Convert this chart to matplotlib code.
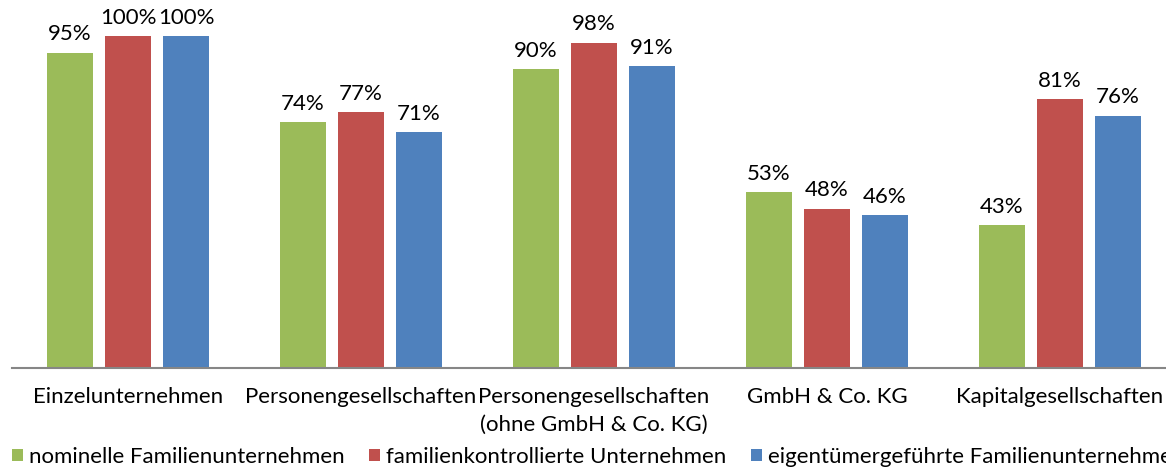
import numpy as np
import matplotlib
matplotlib.use("Agg")
import matplotlib.pyplot as plt

# ============================================================
# DATOS
# ============================================================
CATEGORIES = [
    "Einzelunternehmen",
    "Personengesellschaften",
    "Personengesellschaften\n(ohne GmbH & Co. KG)",
    "GmbH & Co. KG",
    "Kapitalgesellschaften",
]
SERIES = [
    "nominelle Familienunternehmen",
    "familienkontrollierte Unternehmen",
    "eigentümergeführte Familienunternehmen",
]
NOMINELL = [95, 74, 90, 53, 43]
KONTROLLIERT = [100, 77, 98, 48, 81]
EIGENTUEMER = [100, 71, 91, 46, 76]

COLORS = ["#9BBB59", "#C0504D", "#4F81BD"]
FONT = ["Lato", "DejaVu Sans"]
FS = 16

# ============================================================
# FIGURA
# ============================================================
W, H = 1166, 468
plt.rcParams["font.family"] = FONT
fig = plt.figure(figsize=(W / 100, H / 100), dpi=100)

# el eje sobresale a la derecha (la imagen original está recortada)
left_px, right_px, base_px = 11.5, 1176.5, 368
ax = fig.add_axes([left_px / W, (H - base_px) / H, (right_px - left_px) / W, base_px / H])

x = np.arange(len(CATEGORIES))
bar_w = 0.2
step = 0.249
for k, (vals, col, name) in enumerate(zip([NOMINELL, KONTROLLIERT, EIGENTUEMER], COLORS, SERIES)):
    pos = x + (k - 1) * step
    bars = ax.bar(pos, vals, width=bar_w, color=col, label=name, zorder=2)
    for b, v in zip(bars, vals):
        ax.annotate(f"{v}%", (b.get_x() + b.get_width() / 2, v), xytext=(0, 6),
                    textcoords="offset points", ha="center", va="bottom",
                    fontsize=FS, color="black")

ax.set_xlim(-0.5, len(CATEGORIES) - 0.5)
ax.set_ylim(0, 100 * base_px / 332)
ax.set_yticks([])
ax.set_xticks(x)
ax.set_xticklabels(CATEGORIES, fontsize=FS, linespacing=1.45)
ax.tick_params(axis="x", length=0, pad=14)
for s in ["top", "right", "left"]:
    ax.spines[s].set_visible(False)
ax.spines["bottom"].set_color("#868686")
ax.spines["bottom"].set_linewidth(1.5)

leg = fig.legend(loc="center left", bbox_to_anchor=(12 / W, 1 - 457 / H), ncol=3,
                 frameon=False, fontsize=FS, handlelength=0.5, handleheight=0.5,
                 handletextpad=0.27, columnspacing=1.1, borderaxespad=0, borderpad=0)

fig.savefig("out.png", dpi=100)
